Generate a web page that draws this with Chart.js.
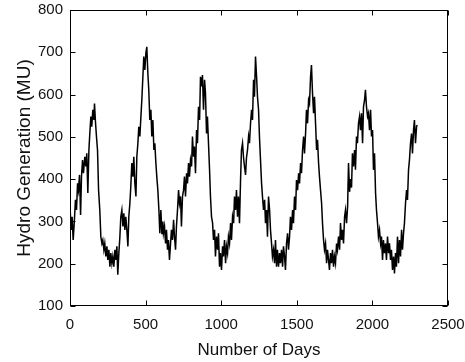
<!DOCTYPE html>
<html>
<head>
<meta charset="utf-8">
<script src="https://cdn.jsdelivr.net/npm/chart.js@4.4.1/dist/chart.umd.min.js"></script>
<style>
  body { margin: 0; background: #fff; }
  #wrap { width: 465px; height: 362px; }
</style>
</head>
<body>
<div id="wrap"><canvas id="hydro-chart" width="465" height="362"></canvas></div>
<script>
// day index and hydro generation (MU)
const days = [
  1, 8, 14, 21, 28, 36, 43, 50, 56, 63, 70, 76, 83, 89, 98, 105, 111, 118, 125, 131,
  138, 144, 151, 158, 162, 169, 175, 182, 189, 197, 204, 211, 217, 224, 230, 237, 244, 250, 257, 264,
  270, 277, 283, 290, 297, 303, 310, 316, 323, 330, 336, 343, 350, 356, 363, 369, 376, 383, 389, 396,
  402, 409, 416, 422, 429, 436, 442, 449, 455, 462, 469, 475, 482, 488, 495, 502, 508, 515, 521, 528,
  535, 541, 548, 555, 561, 568, 574, 581, 588, 594, 601, 608, 614, 618, 625, 632, 638, 645, 651, 658,
  665, 671, 678, 685, 691, 698, 704, 711, 718, 724, 731, 737, 744, 751, 757, 764, 771, 777, 784, 790,
  797, 804, 810, 817, 823, 830, 837, 843, 850, 857, 863, 870, 876, 883, 890, 896, 903, 909, 916, 923,
  929, 936, 943, 949, 956, 962, 969, 976, 982, 989, 995, 1002, 1009, 1015, 1022, 1029, 1035, 1042, 1048, 1055,
  1062, 1068, 1075, 1082, 1088, 1095, 1101, 1108, 1114, 1121, 1128, 1134, 1141, 1148, 1154, 1161, 1167, 1174, 1181, 1187,
  1194, 1201, 1207, 1214, 1220, 1227, 1234, 1240, 1247, 1253, 1260, 1267, 1273, 1280, 1287, 1293, 1300, 1306, 1313, 1320,
  1326, 1333, 1339, 1346, 1353, 1359, 1366, 1372, 1379, 1386, 1392, 1399, 1406, 1412, 1419, 1425, 1432, 1439, 1445, 1452,
  1458, 1465, 1472, 1478, 1485, 1492, 1498, 1505, 1512, 1518, 1525, 1531, 1538, 1545, 1551, 1558, 1564, 1571, 1578, 1584,
  1591, 1597, 1604, 1611, 1617, 1624, 1631, 1637, 1644, 1650, 1657, 1664, 1670, 1677, 1683, 1690, 1697, 1703, 1710, 1716,
  1723, 1730, 1736, 1743, 1749, 1756, 1763, 1769, 1776, 1783, 1789, 1796, 1802, 1809, 1816, 1822, 1829, 1836, 1842, 1849,
  1855, 1862, 1868, 1875, 1882, 1888, 1895, 1901, 1908, 1915, 1921, 1928, 1935, 1941, 1948, 1954, 1961, 1968, 1974, 1981,
  1988, 1994, 2001, 2007, 2014, 2021, 2027, 2034, 2040, 2047, 2054, 2060, 2067, 2073, 2080, 2087, 2093, 2100, 2107, 2113,
  2120, 2126, 2133, 2140, 2146, 2153, 2159, 2166, 2173, 2179, 2186, 2193, 2199, 2206, 2212, 2219, 2226, 2232, 2239, 2245,
  2252, 2259, 2265, 2272, 2278, 2285, 2292, 2296
];
const generation = [
  327, 280, 311, 256, 296, 351, 327, 390, 374, 410, 315, 406, 445, 414, 453, 430, 461, 367, 469, 508,
  548, 524, 564, 540, 579, 532, 501, 469, 374, 327, 264, 248, 256, 233, 248, 217, 241, 209, 233, 193,
  225, 201, 217, 193, 233, 209, 241, 174, 225, 264, 311, 327, 288, 319, 280, 311, 280, 241, 311, 343,
  382, 438, 406, 453, 390, 359, 453, 485, 524, 501, 548, 587, 642, 690, 658, 698, 713, 650, 611, 540,
  564, 501, 540, 469, 485, 438, 406, 374, 327, 272, 327, 270, 300, 272, 288, 248, 280, 233, 256, 209,
  248, 280, 256, 304, 264, 233, 288, 327, 374, 343, 359, 288, 359, 374, 406, 359, 414, 390, 438, 406,
  445, 430, 501, 453, 477, 414, 516, 485, 571, 540, 642, 619, 646, 564, 635, 603, 508, 548, 485, 422,
  359, 311, 296, 256, 280, 217, 264, 233, 272, 193, 225, 185, 241, 217, 256, 201, 241, 225, 264, 248,
  296, 256, 311, 296, 359, 327, 374, 311, 359, 296, 398, 469, 485, 450, 430, 410, 450, 469, 501, 485,
  532, 564, 540, 635, 595, 690, 642, 595, 564, 501, 445, 390, 359, 327, 351, 296, 327, 264, 359, 327,
  280, 248, 217, 233, 201, 256, 193, 233, 193, 225, 201, 233, 193, 241, 217, 185, 248, 272, 233, 264,
  311, 280, 327, 296, 359, 327, 398, 374, 414, 390, 438, 414, 469, 501, 461, 508, 564, 532, 587, 579,
  642, 670, 603, 556, 595, 532, 469, 493, 438, 406, 374, 343, 296, 256, 233, 248, 201, 233, 209, 185,
  225, 201, 233, 193, 217, 201, 248, 233, 264, 233, 296, 256, 280, 248, 311, 327, 296, 335, 438, 370,
  400, 380, 461, 430, 469, 422, 501, 485, 532, 548, 516, 556, 485, 571, 587, 611, 571, 548, 556, 516,
  564, 501, 516, 422, 461, 367, 327, 296, 264, 280, 248, 264, 209, 256, 225, 248, 209, 264, 225, 248,
  209, 233, 185, 217, 177, 225, 193, 264, 201, 256, 217, 280, 233, 272, 296, 343, 374, 351, 422, 445,
  485, 508, 461, 516, 540, 485, 524, 528
];
const xTicks = [0, 500, 1000, 1500, 2000, 2500];
const yTicks = [100, 200, 300, 400, 500, 600, 700, 800];

const FONT = "'Liberation Sans', Arial, sans-serif";

// matlab style box with inward tick marks on all four sides
const boxPlugin = {
  id: 'box',
  afterDatasetsDraw(chart) {
    const { ctx, chartArea: a, scales: { x, y } } = chart;
    const l = Math.round(a.left) + 0.5, r = Math.round(a.right) - 0.5;
    const t = Math.round(a.top) + 0.5, b = Math.round(a.bottom) - 0.5;
    ctx.save();
    ctx.strokeStyle = '#000';
    ctx.lineWidth = 1;
    ctx.strokeRect(l, t, r - l, b - t);
    ctx.beginPath();
    xTicks.forEach(v => {
      const px = Math.round(x.getPixelForValue(v)) + 0.5;
      ctx.moveTo(px, b); ctx.lineTo(px, b - 5);
      ctx.moveTo(px, t); ctx.lineTo(px, t + 5);
    });
    yTicks.forEach(v => {
      const py = Math.round(y.getPixelForValue(v)) + 0.5;
      ctx.moveTo(l, py); ctx.lineTo(l + 5, py);
      ctx.moveTo(r, py); ctx.lineTo(r - 5, py);
    });
    ctx.stroke();
    ctx.restore();
  }
};

new Chart(document.getElementById('hydro-chart'), {
  type: 'line',
  data: {
    datasets: [{
      data: days.map((d, i) => ({ x: d, y: generation[i] })),
      borderColor: '#000',
      borderWidth: 1.5,
      pointRadius: 0,
      tension: 0,
      fill: false
    }]
  },
  options: {
    responsive: false,
    animation: false,
    layout: { padding: { top: 10, right: 17, left: 0, bottom: 0 } },
    plugins: { legend: { display: false }, tooltip: { enabled: false } },
    scales: {
      x: {
        type: 'linear',
        min: 0,
        max: 2500,
        afterFit: s => { s.height = 56; s.paddingLeft = 0; s.paddingRight = 0; },
        afterBuildTicks: s => { s.ticks = xTicks.map(v => ({ value: v })); },
        grid: { display: false, drawTicks: false },
        border: { display: false },
        ticks: { padding: 10, color: '#111', font: { family: FONT, size: 15 }, maxRotation: 0, callback: v => String(v) },
        title: { display: true, text: 'Number of Days', color: '#111', font: { family: FONT, size: 17 }, padding: { top: 0, bottom: 1 } }
      },
      y: {
        min: 100,
        max: 800,
        afterFit: s => { s.width = 70; s.paddingTop = 0; s.paddingBottom = 0; },
        afterBuildTicks: s => { s.ticks = yTicks.map(v => ({ value: v })); },
        grid: { display: false, drawTicks: false },
        border: { display: false },
        ticks: { padding: 7, color: '#111', font: { family: FONT, size: 15 }, callback: v => String(v) },
        title: { display: true, text: 'Hydro Generation (MU)', color: '#111', font: { family: FONT, size: 19 }, padding: { top: 13, bottom: 0 } }
      }
    }
  },
  plugins: [boxPlugin]
});
</script>
</body>
</html>
